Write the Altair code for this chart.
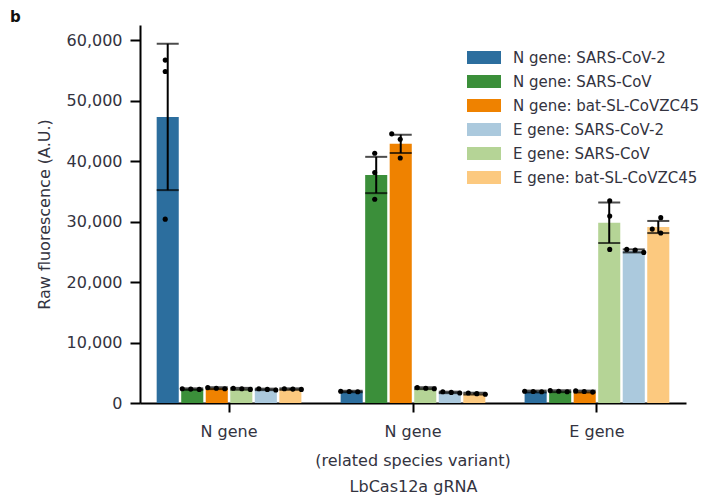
import altair as alt
import pandas as pd

groups = ["N gene", "N gene (related species variant)", "E gene"]
series = ["N gene: SARS-CoV-2", "N gene: SARS-CoV", "N gene: bat-SL-CoVZC45",
          "E gene: SARS-CoV-2", "E gene: SARS-CoV", "E gene: bat-SL-CoVZC45"]
colors = ["#2c6e9e", "#3b8f3a", "#ef8200", "#abc9dd", "#b5d496", "#fcc97f"]
bar_order = ["N gene: SARS-CoV-2", "N gene: SARS-CoV", "N gene: bat-SL-CoVZC45",
             "E gene: SARS-CoV", "E gene: SARS-CoV-2", "E gene: bat-SL-CoVZC45"]

# values per group, listed in bar_order
means_n = [47300, 2300, 2450, 2350, 2250, 2300]
means_nv = [1900, 37700, 42850, 2450, 1750, 1550]
means_e = [1900, 1950, 1900, 29800, 25150, 29100]
errs_n = [12100, 120, 150, 150, 120, 120]
errs_nv = [120, 3000, 1520, 150, 120, 150]
errs_e = [150, 150, 150, 3350, 250, 1000]
points_n = [[56700, 54800, 30400], [2250, 2300, 2350], [2350, 2450, 2550],
            [2250, 2350, 2450], [2150, 2250, 2350], [2250, 2300, 2350]]
points_nv = [[1850, 1900, 1950], [41300, 38100, 33700], [44500, 43600, 40500],
             [2350, 2450, 2550], [1650, 1750, 1850], [1450, 1550, 1650]]
points_e = [[1850, 1900, 1950], [1850, 1950, 2050], [1800, 1900, 2000],
            [33450, 30900, 25400], [25300, 24900, 25400], [30650, 28750, 28100]]

means = [means_n, means_nv, means_e]
errs = [errs_n, errs_nv, errs_e]
points = [points_n, points_nv, points_e]

bar_rows = []
pt_rows = []
for g, grp in enumerate(groups):
    for i, s in enumerate(bar_order):
        m = means[g][i]
        e = errs[g][i]
        bar_rows.append({"group": grp, "series": s, "mean": m,
                         "lo": m - e, "hi": m + e})
        pts = sorted(points[g][i], reverse=True)
        # cluster close values and spread them sideways (beeswarm-like)
        clusters = [[pts[0]]]
        for v in pts[1:]:
            if clusters[-1][-1] - v < 1500:
                clusters[-1].append(v)
            else:
                clusters.append([v])
        for c in clusters:
            slots = [0] if len(c) == 1 else ([-1, 0] if len(c) == 2 else [-1, 0, 1])
            for v, sl in zip(c, slots):
                pt_rows.append({"group": grp, "slot": f"{i}_{sl + 1}", "value": v})

bars_df = pd.DataFrame(bar_rows)
pts_df = pd.DataFrame(pt_rows)
slot_domain = [f"{i}_{k}" for i in range(6) for k in range(3)]

FONT = "DejaVu Sans"
TXT = "#333340"
FS = 16

x_scale = alt.Scale(domain=groups, paddingInner=0.2, paddingOuter=0.084)
x_enc = alt.X("group:N", sort=groups, scale=x_scale,
              axis=alt.Axis(title="LbCas12a gRNA", labelAngle=0, labelLimit=500,
                            labelExpr="datum.label == 'N gene (related species variant)' ? ['N gene', '(related species variant)'] : datum.label",
                            labelLineHeight=29, tickSize=9, labelPadding=11,
                            titlePadding=10))
x_plain = alt.X("group:N", sort=groups, scale=x_scale)
y_scale = alt.Scale(domain=[0, 62500], nice=False)
y_axis = alt.Axis(title="Raw fluorescence (A.U.)", values=[0, 10000, 20000, 30000, 40000, 50000, 60000],
                  format=",d", tickSize=10, labelPadding=8, titlePadding=14)
off_scale = alt.Scale(domain=bar_order, paddingInner=0.1, paddingOuter=0.05)

base = alt.Chart(bars_df)
bars = base.mark_bar().encode(
    x=x_enc,
    xOffset=alt.XOffset("series:N", scale=off_scale, sort=bar_order),
    y=alt.Y("mean:Q", scale=y_scale, axis=y_axis),
    color=alt.Color("series:N", scale=alt.Scale(domain=series, range=colors),
                    legend=alt.Legend(title=None, orient="none", legendX=327, legendY=24,
                                      symbolType="M-1,-0.76H3V0.76H-1Z", symbolSize=289,
                                      symbolStrokeWidth=0, labelOffset=29, rowPadding=7,
                                      padding=0, labelLimit=400)),
)
rules = base.mark_rule(color="black", strokeWidth=2).encode(
    x=x_plain,
    xOffset=alt.XOffset("series:N", scale=off_scale, sort=bar_order),
    y="lo:Q", y2="hi:Q",
)
caps_hi = base.mark_tick(color="black", thickness=2, size=22).encode(
    x=x_plain,
    xOffset=alt.XOffset("series:N", scale=off_scale, sort=bar_order),
    y="hi:Q",
)
caps_lo = base.mark_tick(color="black", thickness=2, size=22).encode(
    x=x_plain,
    xOffset=alt.XOffset("series:N", scale=off_scale, sort=bar_order),
    y="lo:Q",
)
dots = alt.Chart(pts_df).mark_circle(color="black", opacity=1, size=26).encode(
    x=x_plain,
    xOffset=alt.XOffset("slot:N", scale=alt.Scale(domain=slot_domain, paddingInner=0,
                                                   paddingOuter=0.15)),
    y="value:Q",
)

chart = alt.layer(bars, rules, caps_hi, caps_lo, dots).resolve_scale(
    xOffset="independent"
).properties(
    width=546, height=378,
    padding={"left": 2, "top": 2, "right": 2, "bottom": 3},
    title=alt.TitleParams("b", anchor="start", frame="group", dx=-130, fontSize=15,
                          fontWeight="bold", font=FONT, color="#111", offset=0),
).configure_view(stroke=None).configure_axis(
    grid=False, domainColor="black", domainWidth=2, tickColor="black", tickWidth=2,
    labelFont=FONT, titleFont=FONT, labelFontSize=FS, titleFontSize=FS,
    labelColor=TXT, titleColor=TXT, titleFontWeight="normal",
).configure_legend(labelFont=FONT, labelFontSize=15, labelColor=TXT)

chart.save("out.html", embed_options={"renderer": "svg", "actions": False})
